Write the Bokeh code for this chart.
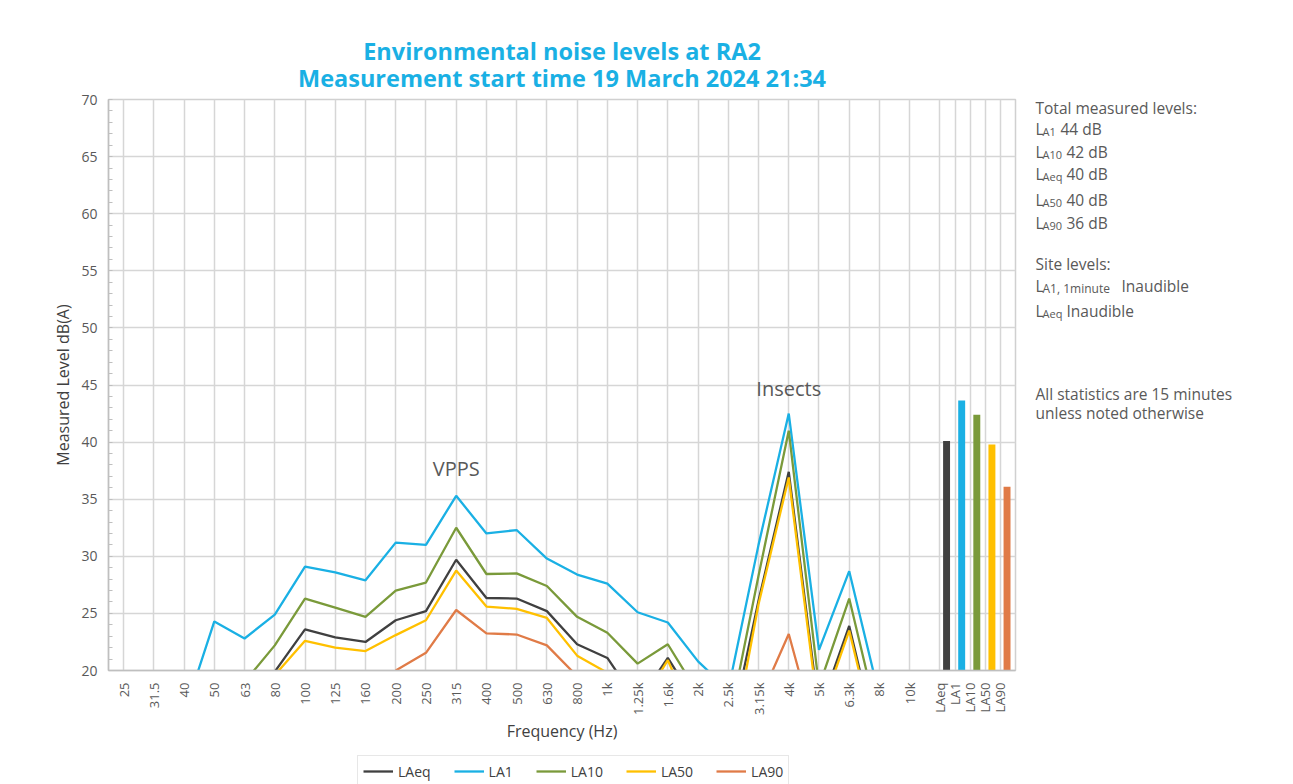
from bokeh.plotting import figure
from bokeh.models import (ColumnDataSource, FixedTicker, SingleIntervalTicker, CustomJSTickFormatter,
                          Label, Legend, LegendItem, Range1d, Title)
from bokeh.layouts import column, row
from bokeh.embed import file_html
from bokeh.resources import INLINE
import math

nan = float("nan")

freq_labels = ["25", "31.5", "40", "50", "63", "80", "100", "125", "160", "200", "250", "315",
               "400", "500", "630", "800", "1k", "1.25k", "1.6k", "2k", "2.5k", "3.15k", "4k",
               "5k", "6.3k", "8k", "10k"]

LAeq = [nan, nan, nan, nan, nan, 19.9, 23.6, 22.9, 22.5, 24.4, 25.2, 29.7, 26.35, 26.3, 25.2,
        22.3, 21.1, 17.2, 21.1, 16.9, 13.7, 26.1, 37.4, 16.4, 23.9, 12.8, nan]
LA1 = [nan, nan, 16.2, 24.3, 22.8, 24.9, 29.1, 28.6, 27.9, 31.2, 31.0, 35.3, 32.0, 32.3, 29.8,
       28.4, 27.6, 25.1, 24.2, 20.8, 18.3, 31.0, 42.5, 21.8, 28.7, 17.7, nan]
LA10 = [nan, nan, nan, nan, 19.0, 22.2, 26.3, 25.5, 24.7, 27.0, 27.7, 32.5, 28.45, 28.5, 27.4,
        24.7, 23.3, 20.6, 22.3, 18.0, 15.1, 28.3, 41.0, 18.6, 26.3, 15.2, nan]
LA50 = [nan, nan, nan, nan, nan, 19.6, 22.6, 22.0, 21.7, 23.1, 24.4, 28.75, 25.6, 25.4, 24.6,
        21.3, 19.8, 16.6, 20.9, 14.9, 11.7, 25.8, 36.9, 15.9, 23.5, 12.5, nan]
LA90 = [nan, nan, nan, nan, nan, nan, nan, nan, nan, 20.0, 21.55, 25.3, 23.25, 23.15, 22.2,
        19.5, nan, nan, nan, nan, nan, 17.2, 23.2, 13.5, nan, nan, nan]

stat_labels = ["LAeq", "LA1", "LA10", "LA50", "LA90"]
stat_values = [40.1, 43.65, 42.4, 39.8, 36.1]

series_names = ["LAeq", "LA1", "LA10", "LA50", "LA90"]
series_values = [LAeq, LA1, LA10, LA50, LA90]
colors = ["#404040", "#1AB0E4", "#7A9A3A", "#FFC000", "#E07B47"]

title_lines = ["Environmental noise levels at RA2", "Measurement start time 19 March 2024 21:34"]

freq_x = list(range(len(freq_labels)))
stat_tick_x = [27 + 0.5 * j for j in range(len(stat_labels))]
stat_bar_x = [t + 0.22 for t in stat_tick_x]

TXT = "#595959"
FONT = "Open Sans"
TITLE_C = "#1AB0E4"
W = 1290


def blank(fig):
    fig.outline_line_color = None
    fig.grid.visible = False
    fig.background_fill_color = "white"
    fig.border_fill_color = "white"


# ---------------- main chart ----------------
BT, BB = 99, 84
PH = BT + 571 + BB
p = figure(width=1020, height=PH, output_backend="svg", toolbar_location=None,
           x_range=Range1d(-0.5, 29.5), y_range=Range1d(20, 70),
           min_border_left=108, min_border_right=5, min_border_top=BT, min_border_bottom=BB)
p.background_fill_color = "white"
p.border_fill_color = "white"
p.outline_line_color = "#d0d0d0"
p.outline_line_width = 1.5

# two-line centred title, line nearest the plot added first
for txt, so in [(title_lines[1], 11), (title_lines[0], -24)]:
    p.add_layout(Title(text=txt, text_font=FONT, text_font_size="23.5px", text_font_style="bold",
                       text_color=TITLE_C, align="center", standoff=so), "above")

src = ColumnDataSource(dict(x=freq_x, **{n: v for n, v in zip(series_names, series_values)}))
for n, c in zip(series_names, colors):
    p.line("x", n, source=src, line_color=c, line_width=2.3)

bsrc = ColumnDataSource(dict(x=stat_bar_x, top=stat_values, color=colors, name=stat_labels))
p.vbar(x="x", top="top", bottom=20, width=0.23, fill_color="color", line_color=None, source=bsrc)

all_ticks = freq_x + stat_tick_x
all_labels = freq_labels + stat_labels
p.xaxis.ticker = FixedTicker(ticks=all_ticks)
p.xaxis.formatter = CustomJSTickFormatter(args=dict(pos=all_ticks, labs=all_labels), code="""
    let best = 0, d = 1e9;
    for (let i = 0; i < pos.length; i++) { const e = Math.abs(pos[i] - tick); if (e < d) { d = e; best = i; } }
    return labs[best];
""")
p.xaxis.major_label_orientation = math.pi / 2
p.xaxis.major_label_text_font = FONT
p.xaxis.major_label_text_font_size = "13px"
p.xaxis.major_label_text_color = TXT
p.xaxis.major_label_standoff = 12
p.xaxis.major_tick_out = 0
p.xaxis.major_tick_in = 0
p.xaxis.minor_tick_out = 0
p.xaxis.axis_line_color = "#bfbfbf"
p.xaxis.axis_line_width = 1.5
p.xaxis.axis_label = "Frequency (Hz)"
p.xaxis.axis_label_text_font = FONT
p.xaxis.axis_label_text_font_style = "normal"
p.xaxis.axis_label_text_font_size = "16px"
p.xaxis.axis_label_text_color = "#404040"
p.xaxis.axis_label_standoff = 2

p.yaxis.ticker = SingleIntervalTicker(interval=5, num_minor_ticks=5)
p.yaxis.major_label_text_font = FONT
p.yaxis.major_label_text_font_size = "14px"
p.yaxis.major_label_text_color = TXT
p.yaxis.major_label_standoff = 11
p.yaxis.major_tick_out = 0
p.yaxis.major_tick_in = 0
p.yaxis.minor_tick_in = 4
p.yaxis.minor_tick_out = 0
p.yaxis.minor_tick_line_color = "#bfbfbf"
p.yaxis.axis_line_color = "#bfbfbf"
p.yaxis.axis_line_width = 1.5
p.yaxis.axis_label = "Measured Level dB(A)"
p.yaxis.axis_label_text_font = FONT
p.yaxis.axis_label_text_font_style = "normal"
p.yaxis.axis_label_text_font_size = "16px"
p.yaxis.axis_label_text_color = "#404040"
p.yaxis.axis_label_standoff = 4

p.xgrid.grid_line_color = "#d6d6d6"
p.xgrid.grid_line_width = 1.5
p.ygrid.grid_line_color = "#d6d6d6"
p.ygrid.grid_line_width = 1.5

p.add_layout(Label(x=11, y=37.7, text="VPPS", text_font=FONT, text_font_size="20px", text_color=TXT,
                   text_align="center", text_baseline="middle"))
p.add_layout(Label(x=22, y=44.7, text="Insects", text_font=FONT, text_font_size="20px", text_color=TXT,
                   text_align="center", text_baseline="middle"))

# ---------------- notes panel (page coordinates; frame = page y 99..670) ----------------
nfig = figure(width=W - 1020, height=PH, output_backend="svg", toolbar_location=None,
              x_range=Range1d(1020, W), y_range=Range1d(670, 99),
              x_axis_type=None, y_axis_type=None,
              min_border_left=0, min_border_right=0, min_border_top=BT, min_border_bottom=BB)
blank(nfig)


def note(text, px, py, size="15.5px"):
    nfig.add_layout(Label(x=px, y=py, text=text, text_font=FONT, text_font_size=size,
                          text_color=TXT, text_align="left", text_baseline="middle"))


note("Total measured levels:", 1035, 107)
rows = [("A1", "44 dB", 128, 1060, "11px"), ("A10", "42 dB", 151, 1066, "11px"),
        ("Aeq", "40 dB", 173, 1066, "11px"), ("A50", "40 dB", 199, 1066, "11px"),
        ("A90", "36 dB", 222, 1066, "11px"),
        ("A1, 1minute", "Inaudible", 285, 1121, "12px"), ("Aeq", "Inaudible", 310, 1066, "11px")]
note("Site levels:", 1035, 263)
for sub, rest, py, rx, ssize in rows:
    note("L", 1035, py)
    note(sub, 1042, py + 3, size=ssize)
    note(rest, rx, py)
note("All statistics are 15 minutes", 1035, 393)
note("unless noted otherwise", 1035, 412)

# ---------------- legend strip (page x; frame = page y 754..784) ----------------
LH = 784 - PH
lfig = figure(width=W, height=LH, output_backend="svg", toolbar_location=None,
              x_range=Range1d(0, W), y_range=Range1d(100, 101),
              x_axis_type=None, y_axis_type=None, min_border=0)
blank(lfig)
lsrc = ColumnDataSource(dict(x=freq_x, **{n: v for n, v in zip(series_names, series_values)}))
key_renderers = [lfig.line("x", n, source=lsrc, line_color=c, line_width=2.3)
                 for n, c in zip(series_names, colors)]
legend = Legend(items=[LegendItem(label=n, renderers=[r]) for n, r in zip(series_names, key_renderers)],
                orientation="horizontal", location=(357, -3),
                label_text_font=FONT, label_text_font_size="14px", label_text_color="#404040",
                glyph_width=30, glyph_height=20, label_standoff=5, spacing=23, padding=5, margin=0,
                border_line_color="#d0d0d0", background_fill_color="white", background_fill_alpha=1)
lfig.add_layout(legend, "center")

layout = column(row(p, nfig), lfig)
open("out.html", "w").write(file_html(layout, INLINE))
